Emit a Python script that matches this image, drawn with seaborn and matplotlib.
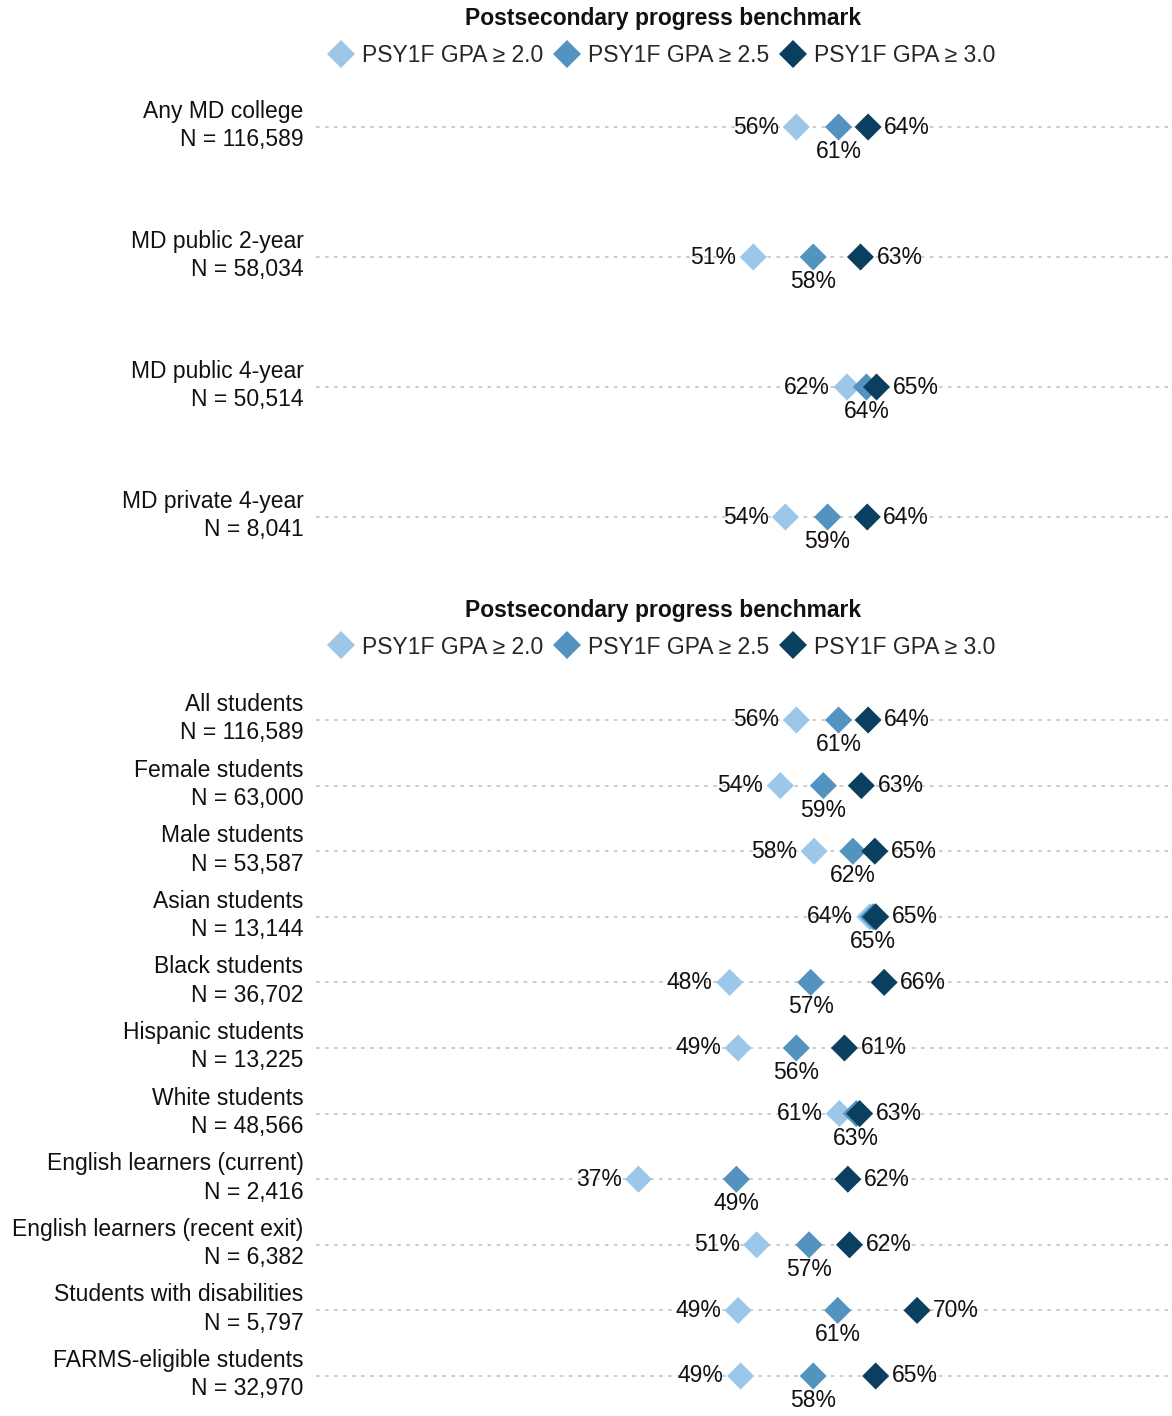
import matplotlib
matplotlib.use("Agg")
import matplotlib.pyplot as plt
import matplotlib.transforms as mtransforms
import seaborn as sns
import pandas as pd
from matplotlib.lines import Line2D

sns.set_theme(style="white")
plt.rcParams['font.family'] = ['Liberation Sans', 'DejaVu Sans']

benchmarks = ["PSY1F GPA \u2265 2.0", "PSY1F GPA \u2265 2.5", "PSY1F GPA \u2265 3.0"]
colors = ["#9cc7e8", "#5492bf", "#0b3f5f"]

top_groups = ["Any MD college", "MD public 2-year", "MD public 4-year", "MD private 4-year"]
top_n = ["116,589", "58,034", "50,514", "8,041"]
top_gpa20 = [55.7, 50.6, 61.7, 54.4]
top_gpa25 = [60.7, 57.7, 64.0, 59.4]
top_gpa30 = [64.2, 63.3, 65.2, 64.1]

bot_groups = ["All students", "Female students", "Male students", "Asian students",
              "Black students", "Hispanic students", "White students",
              "English learners (current)", "English learners (recent exit)",
              "Students with disabilities", "FARMS-eligible students"]
bot_n = ["116,589", "63,000", "53,587", "13,144", "36,702", "13,225", "48,566",
         "2,416", "6,382", "5,797", "32,970"]
bot_gpa20 = [55.7, 53.8, 57.8, 64.4, 47.8, 48.8, 60.8, 37.0, 51.0, 48.8, 49.1]
bot_gpa25 = [60.7, 58.9, 62.4, 64.8, 57.4, 55.7, 62.8, 48.6, 57.2, 60.6, 57.7]
bot_gpa30 = [64.2, 63.4, 65.0, 65.1, 66.1, 61.4, 63.2, 61.8, 62.0, 70.0, 65.1]

W, H = 1172, 1416
fig = plt.figure(figsize=(W / 100, H / 100), dpi=100)

FS = 16.5
XL, XR = -1.2, 100.2
ax_left = 316 / W
ax_width = (1172 - 316) / W
TXT = "#111111"


def make_panel(rect, groups, ns, v20, v25, v30):
    ax = fig.add_axes(rect)
    nrow = len(groups)
    rows = []
    for i in range(nrow):
        for b, vals in zip(benchmarks, [v20, v25, v30]):
            rows.append({"row": i, "bench": b, "value": vals[i]})
    df = pd.DataFrame(rows)
    for i in range(nrow):
        ax.axhline(i, color="#c3c9cd", lw=1.3, ls=(0, (2, 3)), zorder=0)
    sns.scatterplot(data=df, x="value", y="row", hue="bench", hue_order=benchmarks,
                    palette=colors, marker="D", s=190, linewidth=0, ax=ax,
                    legend=False, zorder=3)
    below = mtransforms.offset_copy(ax.transData, fig=fig, x=0, y=-24.5 * 0.72, units="points")
    for i in range(nrow):
        ax.text(v20[i] - 2.0, i, f"{round(v20[i])}%", ha="right", va="center",
                fontsize=FS, color=TXT, zorder=4)
        ax.text(v25[i], i, f"{round(v25[i])}%", ha="center", va="center",
                fontsize=FS, color=TXT, transform=below, zorder=4)
        ax.text(v30[i] + 1.9, i, f"{round(v30[i])}%", ha="left", va="center",
                fontsize=FS, color=TXT, zorder=4)
    ax.set_xlim(XL, XR)
    ax.set_ylim(nrow - 0.5, -0.5)
    ax.set_yticks(range(nrow))
    ax.set_yticklabels([f"{g}\nN = {n}" for g, n in zip(groups, ns)],
                       fontsize=FS, ha="right", linespacing=1.3)
    ax.tick_params(axis="y", length=0, pad=9, colors=TXT)
    shift = mtransforms.ScaledTranslation(0, 6.5 / 100, fig.dpi_scale_trans)
    for lab in ax.get_yticklabels():
        lab.set_transform(lab.get_transform() + shift)
    ax.set_xticks([])
    ax.set_xlabel("")
    ax.set_ylabel("")
    for s in ax.spines.values():
        s.set_visible(False)
    ax.patch.set_alpha(0)
    return ax


top_rect = [ax_left, 1 - 582 / H, ax_width, 520 / H]
ax1 = make_panel(top_rect, top_groups, top_n, top_gpa20, top_gpa25, top_gpa30)

bot_rect = [ax_left, 1 - 1408.8 / H, ax_width, 721.6 / H]
ax2 = make_panel(bot_rect, bot_groups, bot_n, bot_gpa20, bot_gpa25, bot_gpa30)

handles = [Line2D([0], [0], marker="D", color="none", markerfacecolor=c,
                  markeredgewidth=0, markersize=14) for c in colors]

for ty, ly in [(19, 56), (611, 647)]:
    fig.text(663 / W, 1 - ty / H, "Postsecondary progress benchmark", ha="center",
             va="center", fontsize=FS, fontweight="bold", color=TXT)
    fig.legend(handles, benchmarks, loc="center", bbox_to_anchor=(663 / W, 1 - ly / H),
               ncol=3, frameon=False, fontsize=FS, handlelength=0.9,
               handletextpad=0.45, columnspacing=0.6, borderpad=0)

fig.savefig("out.png", dpi=100)
